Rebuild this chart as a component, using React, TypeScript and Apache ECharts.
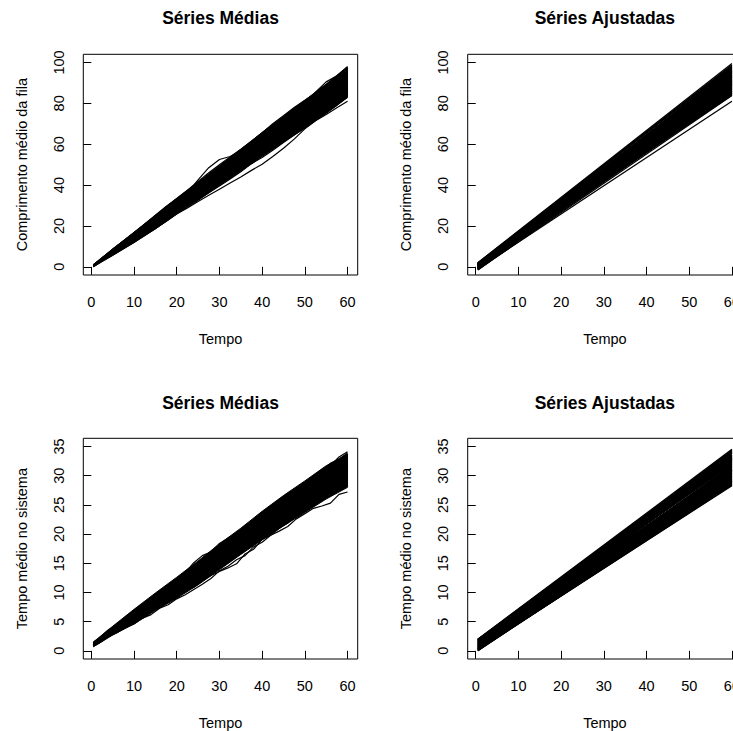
import React, { useEffect, useRef } from "react";
import * as echarts from "echarts";

const FONT = "'Liberation Sans', Arial, Helvetica, sans-serif";

const panelTitles = ["Séries Médias", "Séries Ajustadas", "Séries Médias", "Séries Ajustadas"];
const xAxisName = "Tempo";
const yAxisNames = [
  "Comprimento médio da fila",
  "Comprimento médio da fila",
  "Tempo médio no sistema",
  "Tempo médio no sistema",
];

const tempoTicks = [0, 10, 20, 30, 40, 50, 60];
const compTicks = [0, 20, 40, 60, 80, 100];
const sisTicks = [0, 5, 10, 15, 20, 25, 30, 35];

// ---- Top-left: Séries Médias (comprimento médio da fila) ----
const tEnvelope = [0.5, 5, 10, 15, 20, 25, 30, 35, 40, 45, 50, 55, 60];
const compMediasLower = [0.0, 5.5, 11.8, 18.5, 25.8, 32.5, 39.8, 46.8, 54.0, 61.0, 67.8, 75.0, 83.0];
const compMediasUpper = [1.0, 8.8, 16.8, 25.2, 33.5, 41.5, 49.5, 57.5, 65.8, 73.8, 81.5, 89.5, 97.5];

const tComp = [0.5, 2.5, 5, 7.5, 10, 12.5, 15, 17.5, 20, 22.5, 25, 27.5, 30, 32.5, 35, 37.5, 40, 42.5, 45, 47.5, 50, 52.5, 55, 57.5, 60];
const compLine1 = [0.8, 4.0, 8.0, 12.0, 15.8, 19.8, 23.8, 27.8, 31.8, 36.2, 42.5, 48.5, 52.5, 54.0, 56.8, 60.2, 64.0, 67.5, 71.0, 75.0, 79.0, 83.0, 87.0, 91.5, 95.0];
const compLine2 = [1.0, 4.2, 8.3, 12.4, 16.3, 20.3, 24.5, 28.8, 32.5, 36.5, 40.3, 44.5, 48.0, 52.0, 55.8, 59.5, 63.5, 67.0, 71.0, 75.5, 80.0, 85.5, 90.5, 93.5, 97.5];
const compLine3 = [0.0, 2.8, 5.8, 9.0, 12.0, 15.5, 18.8, 22.2, 25.8, 28.8, 32.0, 35.0, 38.0, 41.0, 44.0, 47.2, 50.2, 54.0, 58.0, 62.5, 67.5, 71.5, 74.5, 77.8, 81.0];
const compLine4 = [0.2, 3.2, 6.3, 9.6, 12.8, 16.2, 19.8, 23.3, 26.8, 30.0, 33.0, 36.2, 39.5, 43.0, 46.5, 50.5, 53.5, 57.0, 60.8, 64.5, 68.0, 72.0, 75.5, 79.0, 83.0];
const compLine5 = [0.9, 4.4, 8.6, 12.7, 16.7, 20.8, 25.0, 29.2, 33.2, 37.0, 41.0, 45.0, 49.2, 53.0, 56.8, 61.0, 65.0, 68.8, 73.0, 77.0, 81.0, 85.0, 89.0, 93.5, 98.0];
const compLine6 = [1.0, 4.3, 8.5, 12.6, 16.8, 21.0, 25.2, 29.5, 33.5, 37.5, 41.8, 46.0, 50.0, 53.8, 57.5, 61.5, 65.5, 70.0, 74.0, 78.0, 81.5, 85.0, 89.0, 93.0, 96.5];
const compLine7 = [0.3, 3.4, 6.8, 10.2, 13.3, 16.8, 20.5, 24.0, 27.2, 30.8, 34.0, 37.8, 41.0, 44.5, 48.0, 51.5, 55.0, 58.8, 62.0, 66.0, 69.5, 73.0, 76.5, 80.0, 84.5];
const compLine8 = [0.5, 3.8, 7.5, 11.2, 14.8, 18.5, 22.3, 26.0, 29.8, 33.5, 37.3, 41.0, 44.8, 48.5, 52.3, 56.0, 60.0, 63.5, 67.5, 71.5, 75.0, 79.0, 82.5, 86.5, 90.0];
const compLine9 = [0.4, 3.6, 7.0, 10.5, 14.0, 17.3, 21.0, 24.5, 28.0, 31.8, 35.2, 38.5, 42.0, 45.8, 49.0, 52.8, 56.5, 60.0, 64.0, 67.8, 71.5, 75.0, 78.5, 82.5, 86.0];
const compMediasLines = [compLine1, compLine2, compLine3, compLine4, compLine5, compLine6, compLine7, compLine8, compLine9];

// ---- Top-right: Séries Ajustadas (comprimento) ----
const tFit = [0.5, 60];
const compAjustStart = [
  2.0, 1.8, 1.5, 1.2, 1.0, 0.8, 0.5, 0.3, 0.0, -0.3, -0.6, -0.9, -1.2, -1.5, 1.9, 1.3, 0.7, 0.1, -0.5, -1.1,
  1.6, 0.9, 0.2, -0.4, -1.0, 1.4, 0.6, -0.2, -0.8, -1.3, 1.7, 1.1, 0.4, -0.1, -0.7, 0.0, 1.0, -0.5, 0.5, -1.0,
  1.9, 1.6, 1.3, 1.0, 0.7, 0.4, 0.1, -0.2, -0.5, -0.8, -1.1, -1.4, 1.75, 1.45, 1.15, 0.85, 0.55, 0.25, -0.05, -0.35,
  -0.65, -0.95, -1.25, 1.2, 0.3, -0.6, 1.5, 0.8, -0.3, -1.4,
];
const compAjustEnd = [
  99.5, 97.8, 96.5, 98.6, 95.0, 93.6, 97.2, 92.0, 94.8, 90.5, 96.0, 88.9, 91.5, 87.5, 93.0, 89.5, 91.0, 95.5, 86.5, 92.8,
  88.0, 90.0, 85.5, 94.0, 89.0, 86.0, 92.5, 84.5, 97.0, 85.0, 90.8, 87.0, 96.2, 88.3, 93.8, 91.8, 84.0, 89.8, 86.8, 81.0,
  98.8, 95.6, 93.2, 91.2, 89.3, 87.2, 85.0, 96.8, 94.3, 92.2, 90.2, 88.5, 86.2, 84.8, 98.2, 95.8, 93.4, 91.4, 89.6, 87.8,
  86.0, 97.5, 94.6, 92.6, 90.6, 88.7, 87.6, 85.8, 95.3, 83.8,
];

// ---- Bottom-left: Séries Médias (tempo médio no sistema) ----
const sisMediasLower = [0.7, 2.7, 4.6, 6.9, 9.0, 11.3, 13.9, 16.5, 19.0, 21.4, 23.7, 26.0, 28.0];
const sisMediasUpper = [1.5, 4.2, 7.1, 9.9, 12.6, 15.4, 18.3, 21.0, 23.9, 26.6, 29.1, 31.7, 33.7];

const tSis = [0.5, 2, 4, 6, 8, 10, 12, 14, 16, 18, 20, 22, 24, 26, 28, 30, 32, 34, 36, 38, 40, 42, 44, 46, 48, 50, 52, 54, 56, 58, 60];
const sisLineA = [1.5, 2.3, 3.6, 4.4, 5.8, 6.9, 7.6, 9.0, 9.8, 11.2, 12.1, 13.4, 15.1, 16.3, 16.9, 18.4, 19.3, 19.9, 21.4, 22.3, 23.6, 24.2, 25.8, 26.4, 27.5, 28.6, 29.1, 30.6, 32.1, 32.8, 33.9];
const sisLineB = [1.3, 2.0, 3.3, 4.6, 5.3, 6.6, 7.9, 8.5, 10.1, 10.8, 12.2, 13.0, 14.3, 15.2, 16.6, 17.5, 18.9, 19.6, 20.8, 22.0, 22.8, 24.4, 25.1, 26.3, 27.6, 28.2, 29.8, 31.0, 31.7, 33.2, 34.1];
const sisLineC = [0.8, 1.4, 2.4, 3.1, 4.0, 4.6, 5.6, 6.2, 7.3, 7.9, 8.9, 9.6, 10.5, 11.4, 12.4, 13.7, 14.5, 15.6, 16.3, 17.8, 18.6, 19.8, 20.5, 21.3, 22.6, 23.5, 24.4, 24.8, 25.3, 26.8, 27.2];
const sisLineD = [0.9, 1.6, 2.7, 3.5, 4.3, 5.2, 6.0, 6.9, 7.6, 8.5, 9.2, 10.3, 10.9, 12.0, 12.9, 13.6, 14.2, 14.9, 16.6, 17.4, 19.1, 19.8, 21.0, 21.9, 23.4, 23.9, 25.2, 26.1, 27.3, 27.9, 29.0];
const sisLineE = [1.1, 1.9, 3.0, 4.0, 4.9, 5.9, 6.8, 7.9, 8.7, 9.9, 10.6, 11.8, 12.9, 13.6, 15.0, 15.8, 16.9, 17.9, 18.7, 20.1, 20.9, 21.8, 23.2, 24.0, 25.1, 26.0, 27.2, 28.1, 29.3, 30.0, 31.2];
const sisLineF = [1.2, 2.1, 3.1, 4.3, 5.1, 6.3, 7.0, 8.3, 9.3, 10.0, 11.4, 12.1, 13.5, 14.6, 15.3, 16.8, 17.7, 18.5, 19.9, 20.6, 21.9, 23.0, 23.8, 25.2, 26.0, 27.3, 28.0, 29.4, 30.5, 31.2, 32.4];
const sisLineG = [1.0, 1.7, 2.8, 3.8, 4.5, 5.5, 6.3, 7.2, 8.2, 9.1, 9.8, 11.0, 11.7, 12.9, 13.8, 14.6, 15.9, 16.6, 17.9, 18.8, 19.6, 21.0, 21.7, 22.9, 23.8, 24.9, 25.7, 27.0, 27.8, 28.9, 29.8];
const sisLineH = [1.3, 2.2, 3.4, 4.1, 5.5, 6.1, 7.4, 8.1, 9.6, 10.2, 11.0, 12.6, 13.3, 14.2, 15.6, 16.2, 17.4, 18.2, 19.3, 20.5, 21.6, 22.2, 23.7, 24.6, 25.3, 26.9, 27.6, 28.5, 29.9, 30.8, 31.6];
const sisMediasLines = [sisLineA, sisLineB, sisLineC, sisLineD, sisLineE, sisLineF, sisLineG, sisLineH];

// ---- Bottom-right: Séries Ajustadas (tempo) ----
const sisAjustStart = [
  2.0, 1.9, 1.7, 1.5, 1.3, 1.1, 0.9, 0.7, 0.5, 0.3, 0.1, 0.0, 1.8, 1.4, 1.0, 0.6, 0.2, 1.6, 1.2, 0.8,
  0.4, 1.95, 1.45, 0.95, 0.45, 0.05, 1.75, 1.25, 0.75, 0.25, 1.55, 1.05, 0.55, 0.15, 1.85, 1.35, 0.85, 0.35, 0.65, 1.15,
  1.98, 1.82, 1.62, 1.42, 1.22, 1.02, 0.82, 0.62, 0.42, 0.22, 0.02, 1.92, 1.72, 1.52, 1.32, 1.12, 0.92, 0.72, 0.52, 0.32,
  0.12, 1.88, 1.48, 1.08, 0.68, 0.28, 1.68, 0.98, 0.38, 0.58,
];
const sisAjustEnd = [
  34.5, 33.2, 32.0, 34.0, 31.0, 33.6, 30.2, 32.6, 29.5, 31.8, 28.6, 30.6, 33.0, 29.9, 32.3, 34.2, 28.3, 31.4, 29.2, 33.8,
  30.9, 32.9, 28.9, 31.6, 33.4, 29.7, 30.4, 32.2, 34.4, 29.0, 31.2, 33.1, 30.0, 32.8, 31.9, 28.7, 33.9, 30.7, 32.5, 29.4,
  34.1, 33.5, 32.9, 32.4, 31.7, 31.1, 30.5, 29.8, 29.1, 28.5, 28.8, 33.9, 33.3, 32.7, 32.1, 31.5, 30.8, 30.1, 29.6, 29.0,
  28.4, 34.3, 33.0, 31.3, 30.3, 28.9, 32.6, 31.0, 29.3, 30.9,
];

const GRID_W = 274.4;
const gridBoxes = [
  { left: 83.3, top: 54.3, width: GRID_W, height: 220.7 },
  { left: 467.7, top: 54.3, width: GRID_W, height: 220.7 },
  { left: 83.3, top: 438.3, width: GRID_W, height: 221 },
  { left: 467.7, top: 438.3, width: GRID_W, height: 221 },
];
const yRanges = [
  { min: -4, max: 104, ticks: compTicks },
  { min: -4, max: 104, ticks: compTicks },
  { min: -1.4, max: 36.4, ticks: sisTicks },
  { min: -1.4, max: 36.4, ticks: sisTicks },
];

function lineSeries(idx: number, ts: number[], vs: number[], width = 1.2) {
  return {
    type: "line",
    xAxisIndex: idx,
    yAxisIndex: idx,
    data: ts.map((t, i) => [t, vs[i]]),
    symbol: "none",
    showSymbol: false,
    silent: true,
    z: 3,
    lineStyle: { color: "#000", width },
  };
}

// Dense band of many overlapping series: filled polygon between the read envelopes
function bandSeries(idx: number, lower: number[], upper: number[]) {
  return {
    type: "custom",
    coordinateSystem: "cartesian2d",
    xAxisIndex: idx,
    yAxisIndex: idx,
    silent: true,
    z: 2,
    data: tEnvelope.map((t, i) => [t, lower[i], upper[i]]),
    encode: { x: 0, y: [1, 2] },
    renderItem: (params: any, api: any) => {
      if (params.dataIndex !== 0) return null;
      const pts: number[][] = [];
      for (let i = 0; i < tEnvelope.length; i++) pts.push(api.coord([tEnvelope[i], upper[i]]));
      for (let i = tEnvelope.length - 1; i >= 0; i--) pts.push(api.coord([tEnvelope[i], lower[i]]));
      return {
        type: "polygon",
        shape: { points: pts },
        style: { fill: "#000", stroke: "#000", lineWidth: 1 },
      };
    },
  };
}

function buildOption() {
  const series: any[] = [];
  series.push(bandSeries(0, compMediasLower, compMediasUpper));
  compMediasLines.forEach((l) => series.push(lineSeries(0, tComp, l)));
  compAjustStart.forEach((s, i) => series.push(lineSeries(1, tFit, [s, compAjustEnd[i]], 1.3)));
  series.push(bandSeries(2, sisMediasLower, sisMediasUpper));
  sisMediasLines.forEach((l) => series.push(lineSeries(2, tSis, l)));
  sisAjustStart.forEach((s, i) => series.push(lineSeries(3, tFit, [s, sisAjustEnd[i]], 1.3)));

  const textBase = { color: "#000", fontFamily: FONT, fontSize: 14.5 };

  return {
    animation: false,
    backgroundColor: "#fff",
    title: panelTitles.map((text, i) => ({
      text,
      left: gridBoxes[i].left + GRID_W / 2,
      top: i < 2 ? 9 : 394,
      textAlign: "center",
      padding: 0,
      textStyle: { color: "#000", fontFamily: FONT, fontSize: 17.5, fontWeight: "bold" },
    })),
    grid: gridBoxes.map((g) => ({
      ...g,
      show: true,
      borderColor: "#000",
      borderWidth: 1,
      backgroundColor: "transparent",
      containLabel: false,
    })),
    xAxis: gridBoxes.map((_, i) => ({
      type: "value",
      gridIndex: i,
      min: -1.88,
      max: 62.38,
      axisLine: { show: false },
      splitLine: { show: false },
      axisTick: { show: true, inside: false, length: 8, customValues: tempoTicks, lineStyle: { color: "#000", width: 1 } },
      axisLabel: { customValues: tempoTicks, margin: 19, ...textBase },
      name: xAxisName,
      nameLocation: "middle",
      nameGap: 56,
      nameTextStyle: textBase,
    })),
    yAxis: gridBoxes.map((_, i) => ({
      type: "value",
      gridIndex: i,
      min: yRanges[i].min,
      max: yRanges[i].max,
      axisLine: { show: false },
      splitLine: { show: false },
      axisTick: { show: true, inside: false, length: 8, customValues: yRanges[i].ticks, lineStyle: { color: "#000", width: 1 } },
      axisLabel: { customValues: yRanges[i].ticks, rotate: 90, margin: 17, ...textBase },
      name: yAxisNames[i],
      nameLocation: "middle",
      nameRotate: 90,
      nameGap: 54,
      nameTextStyle: textBase,
    })),
    series,
  };
}

export default function App() {
  const ref = useRef<HTMLDivElement>(null);
  useEffect(() => {
    if (!ref.current) return;
    const chart = echarts.init(ref.current, undefined, { renderer: "svg" });
    chart.setOption(buildOption() as any);
    return () => chart.dispose();
  }, []);
  return (
    <div style={{ position: "fixed", left: 0, top: 0, width: 733, height: 731, overflow: "hidden", background: "#fff" }}>
      <div ref={ref} style={{ width: 760, height: 731 }} />
    </div>
  );
}
